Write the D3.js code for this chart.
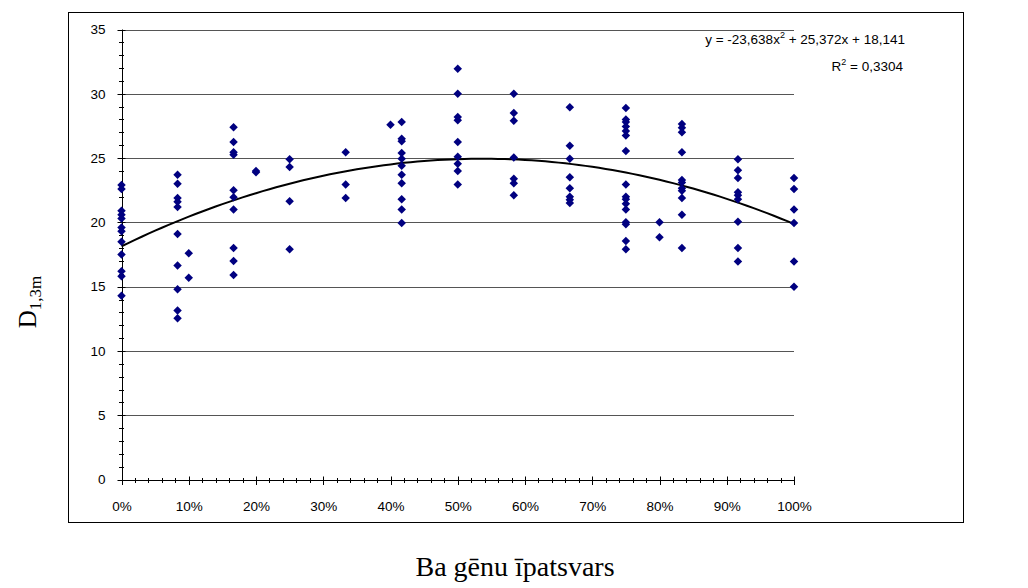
<!DOCTYPE html>
<html>
<head>
<meta charset="utf-8">
<script src="https://cdn.jsdelivr.net/npm/d3@7"></script>
<style>
  html, body { margin: 0; padding: 0; background: #fff; }
  svg { display: block; }
</style>
</head>
<body>
<svg id="chart" width="1028" height="588"></svg>
<script>
// Share of Ba genes (fraction) for each measured group
const baShare = [0, 1/12, 0.10, 2/12, 0.20, 0.25, 4/12, 0.40, 5/12, 0.50, 7/12, 8/12, 0.75, 0.80, 10/12, 11/12, 1.00];

// Stem diameter D1,3m readings for each group, same order as baShare
const diameters = [
  [22.9, 22.6, 20.9, 20.6, 20.3, 19.6, 19.3, 18.5, 17.5, 16.2, 15.8, 14.3],
  [23.7, 23.0, 21.9, 21.6, 21.2, 19.1, 16.65, 14.8, 13.15, 12.55],
  [17.6, 15.7],
  [27.4, 26.25, 25.45, 25.25, 22.5, 21.95, 21.0, 18.0, 17.0, 15.9],
  [24.0, 23.9],
  [24.9, 24.3, 21.65, 17.9],
  [25.45, 22.95, 21.9],
  [27.6],
  [27.8, 26.5, 26.3, 25.4, 24.95, 24.4, 23.7, 23.05, 21.8, 21.0, 19.95],
  [31.95, 30.0, 28.2, 27.95, 26.25, 25.1, 24.55, 24.0, 22.95],
  [30.0, 28.5, 27.9, 25.05, 23.4, 23.05, 22.1],
  [28.95, 25.95, 24.95, 23.5, 22.65, 22.0, 21.75, 21.5],
  [28.9, 28.0, 27.8, 27.45, 27.1, 26.75, 25.55, 22.95, 22.0, 21.8, 21.45, 21.0, 20.0, 19.85, 18.55, 17.9],
  [20.0, 18.85],
  [27.65, 27.35, 27.0, 25.45, 23.3, 23.1, 22.65, 22.45, 21.9, 20.6, 18.0],
  [24.9, 24.05, 23.45, 22.35, 22.1, 21.8, 20.05, 18.0, 16.95],
  [23.45, 22.6, 21.0, 19.95, 16.95, 15.0]
];

// Polynomial trendline coefficients: y = a*x^2 + b*x + c
const trendCoef = [-23.638, 25.372, 18.141];
const trendLabel = "y = -23,638x";
const trendLabelRest = " + 25,372x + 18,141";
const r2Label = "0,3304";

const yTicks = [0, 5, 10, 15, 20, 25, 30, 35];
const xTicks = [0, 0.1, 0.2, 0.3, 0.4, 0.5, 0.6, 0.7, 0.8, 0.9, 1.0];
const xTitle = "Ba gēnu īpatsvars";

const points = [];
baShare.forEach((s, i) => diameters[i].forEach(d => points.push({ x: s, y: d })));

const svg = d3.select("#chart");
const sans = "'Liberation Sans', Arial, sans-serif";
const serif = "'Liberation Serif', 'Times New Roman', serif";

// Chart frame
svg.append("rect")
  .attr("x", 68.5).attr("y", 12.5)
  .attr("width", 895).attr("height", 510)
  .attr("fill", "none").attr("stroke", "#000").attr("stroke-width", 1);

const x = d3.scaleLinear().domain([0, 1]).range([121.5, 794]);
const y = d3.scaleLinear().domain([0, 35]).range([479.5, 29.5]);

// Horizontal gridlines
svg.append("g").selectAll("line")
  .data(yTicks.filter(t => t > 0))
  .join("line")
  .attr("x1", x(0)).attr("x2", x(1))
  .attr("y1", d => Math.round(y(d)) + 0.5).attr("y2", d => Math.round(y(d)) + 0.5)
  .attr("stroke", "#555").attr("stroke-width", 1);

// Y axis line with crossing ticks (major every 5, minor every 1)
svg.append("line")
  .attr("x1", Math.round(x(0)) + 0.5).attr("x2", Math.round(x(0)) + 0.5)
  .attr("y1", y(0)).attr("y2", y(35))
  .attr("stroke", "#000");
svg.append("g").selectAll("line")
  .data(d3.range(0, 36, 1))
  .join("line")
  .attr("x1", d => d % 5 === 0 ? x(0) - 4 : x(0) - 2.5)
  .attr("x2", d => d % 5 === 0 ? x(0) + 4 : x(0) + 2.5)
  .attr("y1", d => Math.round(y(d)) + 0.5).attr("y2", d => Math.round(y(d)) + 0.5)
  .attr("stroke", "#000");

const yAxis = d3.axisLeft(y).tickValues(yTicks).tickSize(0).tickPadding(16).tickFormat(d3.format("d"));
const gy = svg.append("g").attr("transform", `translate(${x(0)},0)`).call(yAxis);
gy.select(".domain").remove();
gy.selectAll("text").attr("font-family", sans).attr("font-size", 13.5).attr("fill", "#000");

// X axis line with crossing ticks (major every 10%, minor every 2%)
const xBase = Math.round(y(0)) + 0.5;
svg.append("line")
  .attr("x1", x(0)).attr("x2", x(1))
  .attr("y1", xBase).attr("y2", xBase)
  .attr("stroke", "#000");
svg.append("g").selectAll("line")
  .data(d3.range(0, 51, 1))
  .join("line")
  .attr("x1", d => Math.round(x(d / 50)) + 0.5).attr("x2", d => Math.round(x(d / 50)) + 0.5)
  .attr("y1", d => d % 5 === 0 ? xBase - 4 : xBase - 2.5)
  .attr("y2", d => d % 5 === 0 ? xBase + 4.5 : xBase + 2.5)
  .attr("stroke", "#000");

const xAxis = d3.axisBottom(x).tickValues(xTicks).tickSize(0).tickPadding(22).tickFormat(d3.format(".0%"));
const gx = svg.append("g").attr("transform", `translate(0,${y(0)})`).call(xAxis);
gx.select(".domain").remove();
gx.selectAll("text").attr("font-family", sans).attr("font-size", 13.5).attr("fill", "#000");

// Quadratic trendline
const trend = d3.range(0, 1.0001, 0.01).map(t => ({ x: t, y: trendCoef[0] * t * t + trendCoef[1] * t + trendCoef[2] }));
svg.append("path")
  .datum(trend)
  .attr("d", d3.line().x(d => x(d.x)).y(d => y(d.y)))
  .attr("fill", "none").attr("stroke", "#000").attr("stroke-width", 2);

// Diamond markers
const diamond = d3.symbol().type(d3.symbolDiamond2).size(46);
svg.append("g").selectAll("path")
  .data(points)
  .join("path")
  .attr("transform", d => `translate(${x(d.x)},${y(d.y)})`)
  .attr("d", diamond)
  .attr("fill", "#000080");

// Trendline equation and R²
const eq = svg.append("text")
  .attr("x", 905).attr("y", 44)
  .attr("text-anchor", "end")
  .attr("font-family", sans).attr("font-size", 13.5).attr("fill", "#000");
eq.append("tspan").text(trendLabel);
eq.append("tspan").attr("font-size", 9).attr("dy", -6).text("2");
eq.append("tspan").attr("dy", 6).text(trendLabelRest);

const r2 = svg.append("text")
  .attr("x", 903).attr("y", 71)
  .attr("text-anchor", "end")
  .attr("font-family", sans).attr("font-size", 13.5).attr("fill", "#000");
r2.append("tspan").text("R");
r2.append("tspan").attr("font-size", 9).attr("dy", -6).text("2");
r2.append("tspan").attr("dy", 6).text(" = " + r2Label);

// Axis titles
svg.append("text")
  .attr("x", 515).attr("y", 576)
  .attr("text-anchor", "middle")
  .attr("font-family", serif).attr("font-size", 28).attr("fill", "#000")
  .text(xTitle);

const yt = svg.append("text")
  .attr("transform", "translate(36,302) rotate(-90)")
  .attr("text-anchor", "middle")
  .attr("font-family", serif).attr("font-size", 25).attr("fill", "#000");
yt.append("tspan").text("D");
yt.append("tspan").attr("font-size", 17).attr("dy", 5).text("1,3m");
</script>
</body>
</html>
